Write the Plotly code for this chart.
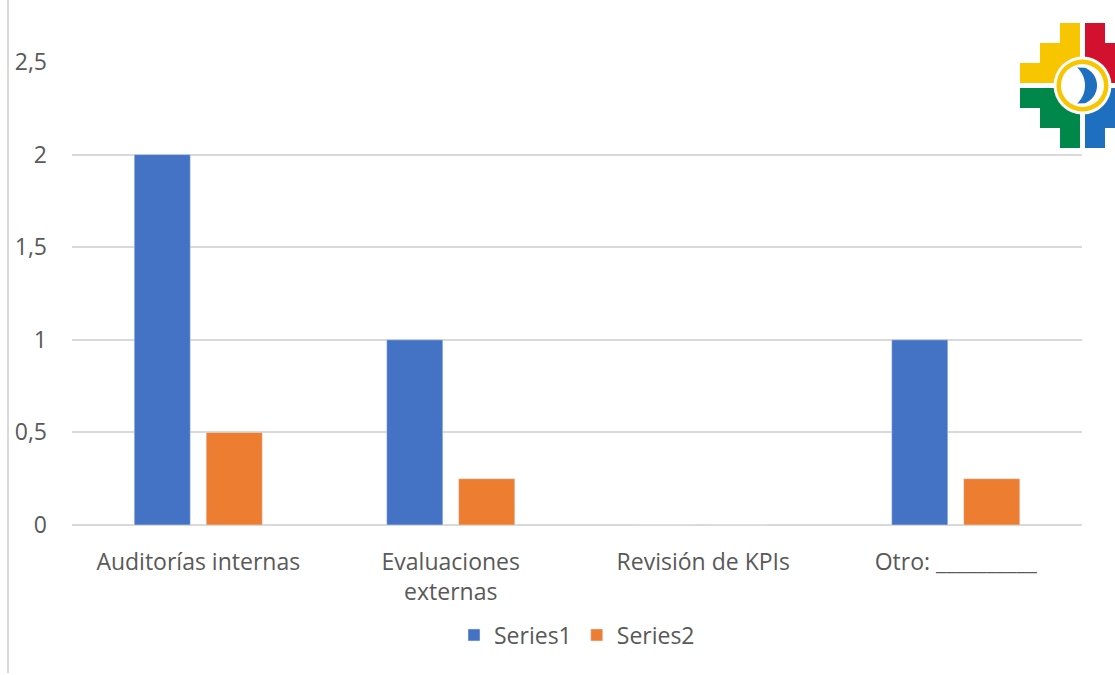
import math
import plotly.graph_objects as go

# Chart data
categories = ["Auditorías internas", "Evaluaciones<br>externas", "Revisión de KPIs", "Otro: __________"]
series1 = [2, 1, 0, 1]
series2 = [0.5, 0.25, 0, 0.25]
y_ticks = [0, 0.5, 1, 1.5, 2, 2.5]
y_tick_text = ["0", "0,5", "1", "1,5", "2", "2,5"]

W, H = 1115, 675
L, R, T, B = 72, 33, 62, 150
PW, PH = W - L - R, H - T - B

FONT = "Open Sans"
GREY = "#595959"


def px(x):
    return (x - L) / PW


def py(y):
    return (H - B - y) / PH


def poly_path(points):
    return "M " + " L ".join(f"{px(x):.5f},{py(y):.5f}" for x, y in points) + " Z"


fig = go.Figure()
fig.add_trace(go.Bar(name="Series1", x=categories, y=series1, marker_color="#4472C4"))
fig.add_trace(go.Bar(name="Series2", x=categories, y=series2, marker_color="#ED7D31"))

shapes = []

# thin frame line on the left edge
shapes.append(dict(type="line", xref="paper", yref="paper",
                   x0=px(8), x1=px(8), y0=py(0), y1=py(673),
                   line=dict(color="#D9D9D9", width=2), layer="above"))

# emblem: stepped cross in four colours with a ringed moon
cx, cy = 1082.5, 85.5
s = 20
g = 2.5
quadrant = [(0, 0), (3, 0), (3, 1), (2, 1), (2, 2), (1, 2), (1, 3), (0, 3)]
for col, sx, sy in [("#F7C600", -1, -1), ("#D2112F", 1, -1), ("#00884A", -1, 1), ("#1F6FC0", 1, 1)]:
    pts = [(cx + sx * (g + a * s), cy + sy * (g + b * s)) for a, b in quadrant]
    shapes.append(dict(type="path", xref="paper", yref="paper", path=poly_path(pts),
                       fillcolor=col, line=dict(width=0), layer="above"))


def circle(r, fill):
    return dict(type="circle", xref="paper", yref="paper",
                x0=px(cx - r), x1=px(cx + r), y0=py(cy + r), y1=py(cy - r),
                fillcolor=fill, line=dict(width=0), layer="above")


shapes.append(circle(29, "white"))
shapes.append(circle(26, "#F7C600"))
shapes.append(circle(21.5, "white"))

# crescent moon: outer arc minus an offset inner arc
ocx, ocy, orad = 1078.0, 85.5, 19.0
icx, icy, irad = 1060.5, 85.5, 24.5
outer = []
for i in range(41):
    a = -1.22 + 2.44 * i / 40
    outer.append((ocx + orad * math.cos(a), ocy + orad * math.sin(a)))
inner = []
for i in range(41):
    a = 0.83 - 1.66 * i / 40
    inner.append((icx + irad * math.cos(a), icy + irad * math.sin(a)))
shapes.append(dict(type="path", xref="paper", yref="paper", path=poly_path(outer + inner),
                   fillcolor="#1F6FC0", line=dict(width=0), layer="above"))

fig.update_layout(
    width=W, height=H,
    margin=dict(l=L, r=R, t=T, b=B, autoexpand=False),
    paper_bgcolor="white", plot_bgcolor="white",
    barmode="group", bargap=0.43, bargroupgap=0.22,
    separators=",.",
    font=dict(family=FONT, size=23, color=GREY),
    showlegend=True,
    legend=dict(orientation="h", x=0.5, xanchor="center", y=py(635), yanchor="middle",
                font=dict(family=FONT, size=23, color=GREY), itemwidth=30,
                bgcolor="rgba(0,0,0,0)"),
    xaxis=dict(showgrid=False, zeroline=False, showline=False, ticks="",
               tickfont=dict(family=FONT, size=23, color=GREY), ticklabelstandoff=21),
    yaxis=dict(range=[0, 2.5], tickvals=y_ticks, ticktext=y_tick_text,
               showgrid=True, gridcolor="#D9D9D9", gridwidth=1.5,
               zeroline=True, zerolinecolor="#D9D9D9", zerolinewidth=1.5,
               showline=False, ticks="", ticklabelstandoff=24,
               tickfont=dict(family=FONT, size=23, color=GREY)),
    shapes=shapes,
)

fig.write_html("out.html")
